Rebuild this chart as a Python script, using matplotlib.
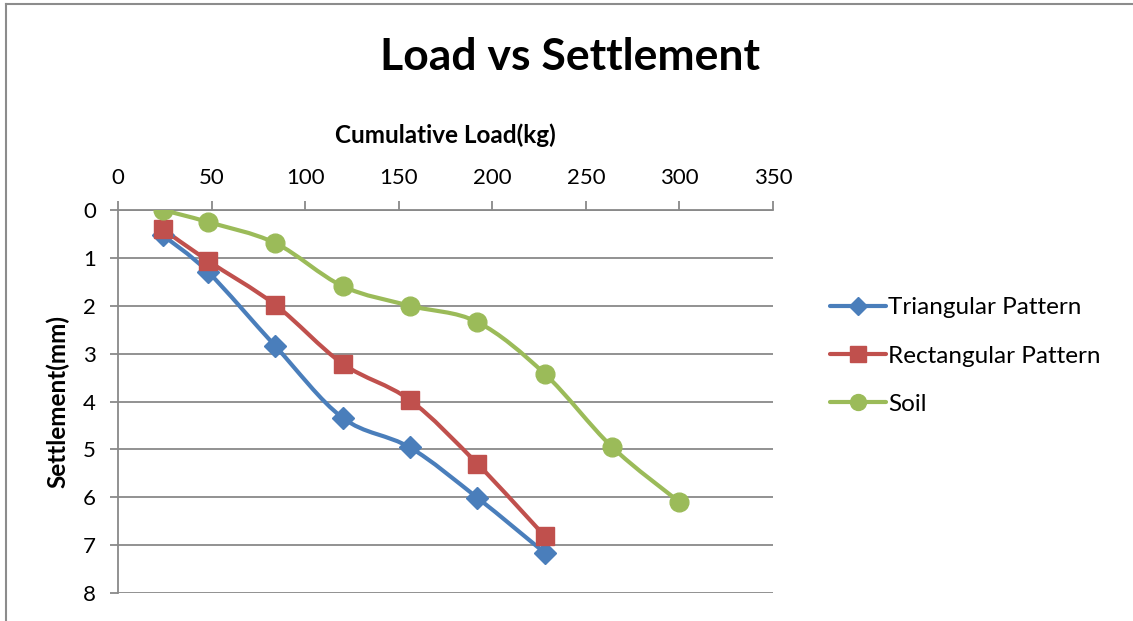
import matplotlib
matplotlib.use('Agg')
import matplotlib.pyplot as plt
from matplotlib.path import Path
from matplotlib.patches import PathPatch
from matplotlib.lines import Line2D

plt.rcParams['font.family'] = ['Lato', 'DejaVu Sans']

# cumulative load (kg) and settlement (mm) for each test
load = [24, 48, 84, 120, 156, 192, 228, 264, 300]
triangular = [0.53, 1.29, 2.84, 4.34, 4.96, 6.01, 7.16]
rectangular = [0.40, 1.06, 1.98, 3.21, 3.97, 5.30, 6.81]
soil = [0.0, 0.25, 0.69, 1.59, 2.00, 2.34, 3.42, 4.95, 6.10]

names = ['Triangular Pattern', 'Rectangular Pattern', 'Soil']
colors = ['#4A7EBB', '#C0504D', '#9BBB59']
markers = ['D', 's', 'o']
msizes = [11, 13, 13.5]
grid_c = '#898989'


def smooth_path(xs, ys):
    # Catmull-Rom style bezier through every point
    pts = list(zip(xs, ys))
    verts = [pts[0]]
    codes = [Path.MOVETO]
    n = len(pts)
    for i in range(n - 1):
        p0 = pts[i - 1] if i > 0 else pts[i]
        p1 = pts[i]
        p2 = pts[i + 1]
        p3 = pts[i + 2] if i + 2 < n else pts[i + 1]
        c1 = (p1[0] + (p2[0] - p0[0]) / 6, p1[1] + (p2[1] - p0[1]) / 6)
        c2 = (p2[0] - (p3[0] - p1[0]) / 6, p2[1] - (p3[1] - p1[1]) / 6)
        verts += [c1, c2, p2]
        codes += [Path.CURVE4] * 3
    return Path(verts, codes)


fig = plt.figure(figsize=(11.33, 6.21), dpi=100)
ax = fig.add_axes([118 / 1133, 1 - 593 / 621, 655 / 1133, 383 / 621])

handles = []
for ys, name, c, m, ms in zip([triangular, rectangular, soil], names, colors, markers, msizes):
    xs = load[:len(ys)]
    ax.add_patch(PathPatch(smooth_path(xs, ys), fill=False, edgecolor=c, lw=3,
                           capstyle='round', joinstyle='round', zorder=3))
    ax.plot(xs, ys, linestyle='none', marker=m, ms=ms, color=c, zorder=4)
    handles.append(Line2D([], [], color=c, lw=3, marker=m, ms=ms * 0.85,
                          solid_capstyle='round'))

ax.set_xlim(0, 350)
ax.set_ylim(8, 0)
ax.set_xticks(range(0, 351, 50))
ax.set_yticks(range(0, 9))
ax.xaxis.tick_top()
ax.yaxis.grid(True, color=grid_c, lw=1.3)
ax.set_axisbelow(True)
for s in ['right', 'bottom']:
    ax.spines[s].set_visible(False)
for s in ['top', 'left']:
    ax.spines[s].set_color(grid_c)
    ax.spines[s].set_linewidth(1.3)
ax.tick_params(axis='x', direction='out', length=6.5, width=1.3, color=grid_c,
               labelsize=16, pad=9)
ax.tick_params(axis='y', direction='out', length=6, width=1.3, color=grid_c,
               labelsize=16, pad=10)

fig.text(0.503, 0.908, 'Load vs Settlement', ha='center', va='center',
         fontsize=32, fontweight='bold')
fig.text(445.5 / 1133, 1 - 135 / 621, 'Cumulative Load(kg)', ha='center',
         va='center', fontsize=17.5, fontweight='bold')
fig.text(58 / 1133, 1 - 401 / 621, 'Settlement(mm)', ha='center', va='center',
         rotation=90, fontsize=17.5, fontweight='bold')

ax.legend(handles, names, loc='center left', bbox_to_anchor=(830 / 1133, 1 - 356 / 621),
          bbox_transform=fig.transFigure, frameon=False, fontsize=17.5,
          handlelength=2.3, handletextpad=0.1, labelspacing=1.12, borderpad=0,
          borderaxespad=0)

# outer chart frame
fig.add_artist(Line2D([6 / 1133, 6 / 1133], [0, 1 - 4 / 621], color='#8c8c8c', lw=1.5,
                      transform=fig.transFigure))
fig.add_artist(Line2D([6 / 1133, 1], [1 - 4 / 621, 1 - 4 / 621], color='#8c8c8c', lw=1.5,
                      transform=fig.transFigure))

fig.savefig('out.png', dpi=100)
